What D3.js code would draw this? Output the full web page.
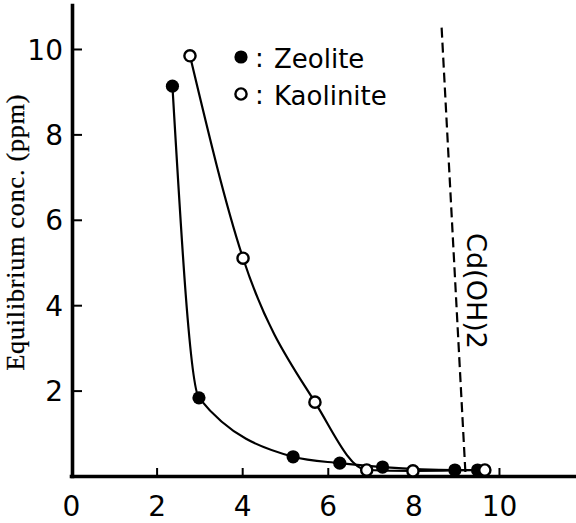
<!DOCTYPE html>
<html>
<head>
<meta charset="utf-8">
<script src="https://cdn.jsdelivr.net/npm/d3@7"></script>
<style>
  html, body { margin: 0; padding: 0; background: #fff; }
  svg { display: block; }
</style>
</head>
<body>
<svg id="chart" width="576" height="523"></svg>
<script>
// ---------------------------------------------------------
// Cd adsorption: equilibrium conc. vs pH (zeolite / kaolinite)
// ---------------------------------------------------------

// Zeolite (filled markers)
const ZEO_X = [2.37, 2.99, 5.19, 6.28, 7.28, 8.97, 9.5];
const ZEO_Y = [9.13, 1.83, 0.45, 0.30, 0.21, 0.14, 0.14];

// Kaolinite (open markers)
const KAO_X = [2.78, 4.02, 5.70, 6.91, 7.99, 9.67];
const KAO_Y = [9.84, 5.10, 1.73, 0.14, 0.12, 0.14];

// Cd(OH)2 precipitation boundary (dashed)
const CDOH_X = [8.66, 9.22];
const CDOH_Y = [10.5, 0];

const X_TICKS = [0, 2, 4, 6, 8, 10];
const Y_TICKS = [2, 4, 6, 8, 10];

const Y_TITLE = "Equilibrium conc. (ppm)";
const LEGEND = ["Zeolite", "Kaolinite"];
const CDOH_LABEL = "Cd(OH)2";

// -------------------------------------------------------
// SCALES
// -------------------------------------------------------
const svg = d3.select("#chart");
const x = d3.scaleLinear().domain([0, 11.8]).range([71, 576]);
const y = d3.scaleLinear().domain([0, 11.03]).range([476, 5]);

const TICK_FONT = "'DejaVu Sans', sans-serif";

// -------------------------------------------------------
// AXES (ticks point inward)
// -------------------------------------------------------
const xAxis = svg.append("g")
  .attr("transform", `translate(0,${y(0)})`)
  .call(d3.axisBottom(x).tickValues(X_TICKS).tickSize(-8).tickSizeOuter(0).tickPadding(20));

const yAxis = svg.append("g")
  .attr("transform", `translate(${x(0) + 1},0)`)
  .call(d3.axisLeft(y).tickValues(Y_TICKS).tickSize(-10).tickSizeOuter(0).tickPadding(9));

[xAxis, yAxis].forEach(g => {
  g.select(".domain").attr("stroke", "#000").attr("stroke-width", 3.6).attr("stroke-linecap", "square");
  g.selectAll(".tick line").attr("stroke", "#000").attr("stroke-width", 2);
  g.selectAll(".tick text")
    .attr("fill", "#000")
    .style("font-family", TICK_FONT)
    .style("font-size", "28px");
});
// no tick mark at x = 0
xAxis.selectAll(".tick").filter(d => d === 0).select("line").remove();
yAxis.selectAll(".tick text").attr("dy", "0.36em");

// y axis title
svg.append("text")
  .attr("transform", `translate(24,${y(5.7)}) rotate(-90)`)
  .attr("text-anchor", "middle")
  .attr("textLength", 276)
  .attr("lengthAdjust", "spacing")
  .attr("stroke", "#000")
  .attr("stroke-width", 0.3)
  .style("font-family", "'Liberation Serif', 'Times New Roman', serif")
  .style("font-size", "26px")
  .text(Y_TITLE);

// -------------------------------------------------------
// Cd(OH)2 DASHED LINE
// -------------------------------------------------------
svg.append("line")
  .attr("x1", x(CDOH_X[0])).attr("y1", y(CDOH_Y[0]))
  .attr("x2", x(CDOH_X[1])).attr("y2", y(CDOH_Y[1]))
  .attr("stroke", "#000")
  .attr("stroke-width", 2.2)
  .attr("stroke-dasharray", "10,5");

svg.append("text")
  .attr("transform", `translate(467,291) rotate(90)`)
  .attr("text-anchor", "middle")
  .style("font-family", TICK_FONT)
  .style("font-size", "27px")
  .text(CDOH_LABEL);

// -------------------------------------------------------
// CURVES + MARKERS
// -------------------------------------------------------
const line = d3.line()
  .x(d => x(d[0]))
  .y(d => y(d[1]))
  .curve(d3.curveMonotoneX);

const series = [
  { pts: d3.zip(ZEO_X, ZEO_Y), filled: true },
  { pts: d3.zip(KAO_X, KAO_Y), filled: false }
];

series.forEach(s => {
  svg.append("path")
    .datum(s.pts)
    .attr("d", line)
    .attr("fill", "none")
    .attr("stroke", "#000")
    .attr("stroke-width", 2.2);
});

series.forEach(s => {
  svg.append("g")
    .selectAll("circle")
    .data(s.pts)
    .join("circle")
    .attr("cx", d => x(d[0]))
    .attr("cy", d => y(d[1]))
    .attr("r", s.filled ? 6.6 : 5.6)
    .attr("fill", s.filled ? "#000" : "#fff")
    .attr("stroke", "#000")
    .attr("stroke-width", s.filled ? 0 : 2.4);
});

// -------------------------------------------------------
// LEGEND
// -------------------------------------------------------
const legend = svg.append("g");
LEGEND.forEach((name, i) => {
  const cy = 57 + i * 37;
  legend.append("circle")
    .attr("cx", 241).attr("cy", cy)
    .attr("r", i === 0 ? 6.6 : 5.6)
    .attr("fill", i === 0 ? "#000" : "#fff")
    .attr("stroke", "#000")
    .attr("stroke-width", i === 0 ? 0 : 2.4);
  legend.append("text")
    .attr("x", 255).attr("y", cy + 10)
    .style("font-family", TICK_FONT)
    .style("font-size", "26px")
    .text(":");
  legend.append("text")
    .attr("x", 274).attr("y", cy + 11)
    .style("font-family", TICK_FONT)
    .style("font-size", "26px")
    .text(name);
});
</script>
</body>
</html>
